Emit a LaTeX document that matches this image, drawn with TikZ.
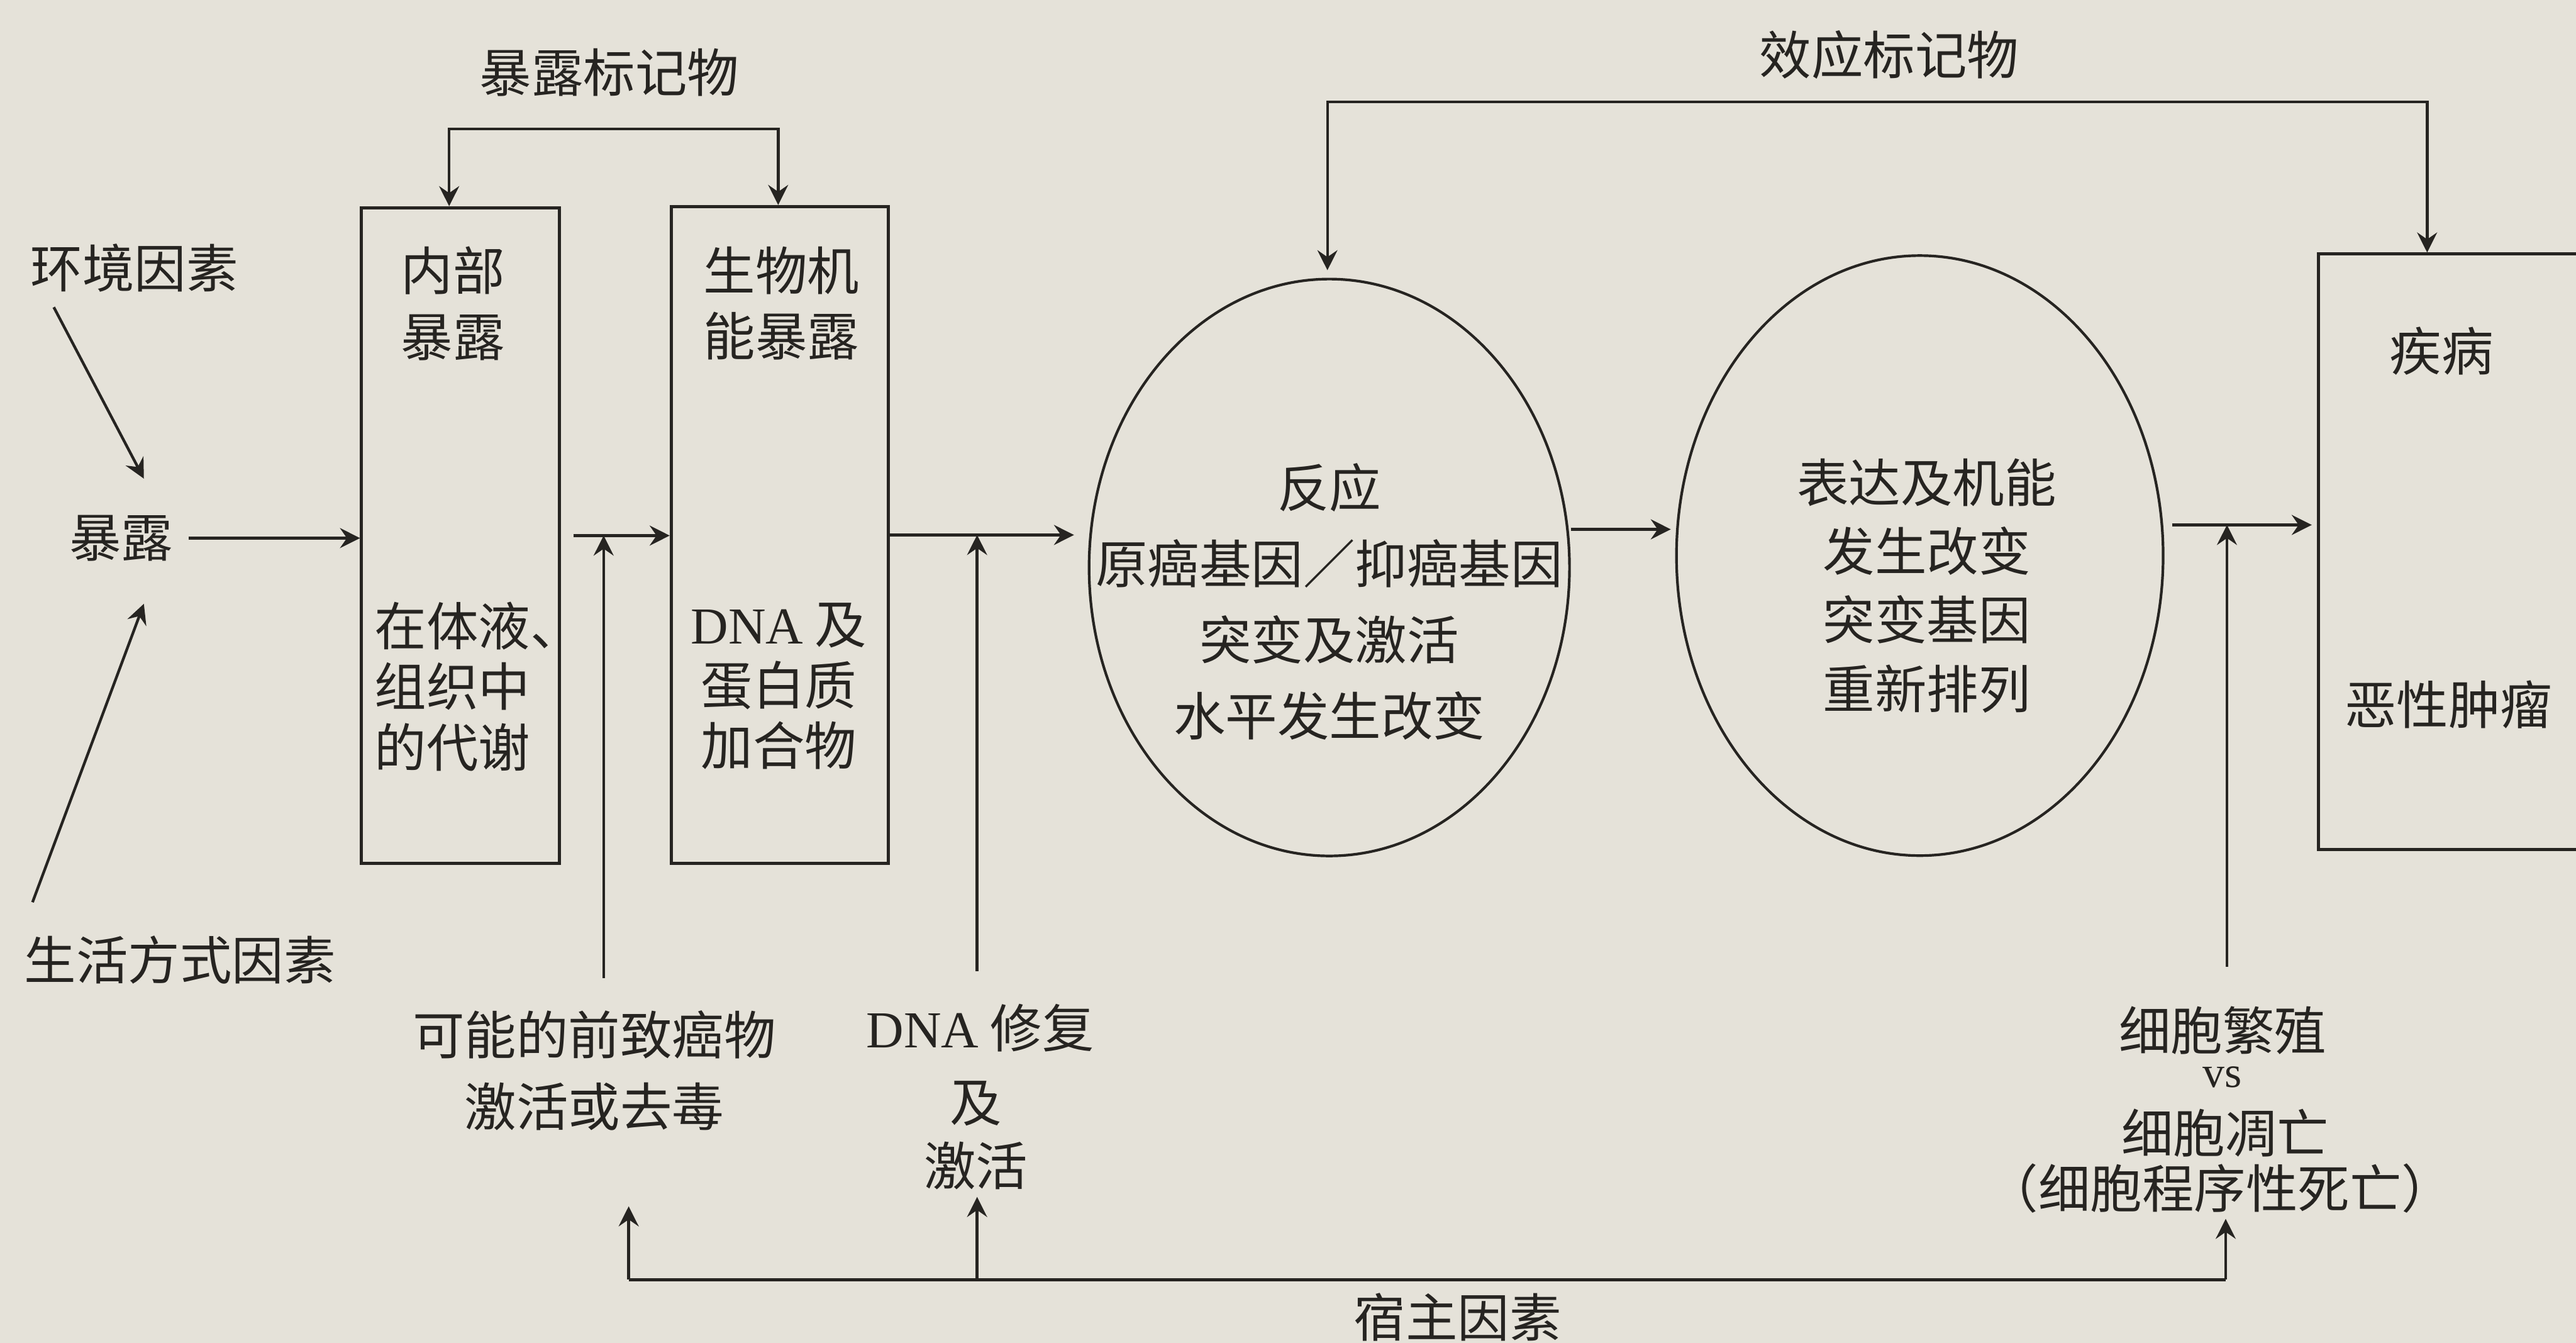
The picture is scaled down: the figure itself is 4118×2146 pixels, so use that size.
\documentclass[tikz,border=0pt]{standalone}
\usepackage{fontspec}
\setmainfont{Noto Sans CJK SC}
\newfontfamily\latf{Liberation Serif}
\usetikzlibrary{arrows.meta,shapes.geometric}
\definecolor{paper}{RGB}{229,226,217}
\definecolor{ink}{RGB}{38,36,33}
\begin{document}
\begin{tikzpicture}[x=0.1mm,y=-0.1mm,color=ink,
  box/.style={draw, line width=1.4pt, rectangle, inner sep=0pt},
  ell/.style={draw, line width=1.2pt, ellipse, inner sep=0pt},
  txt/.style={inner sep=0pt, font=\fontsize{23.6pt}{28pt}\selectfont},
  arr/.style={line width=1.25pt, -{Stealth[length=3.2mm,width=3.2mm,inset=1.1mm]}},
  arrs/.style={line width=1.25pt, {Stealth[length=3.2mm,width=3.2mm,inset=1.1mm]}-{Stealth[length=3.2mm,width=3.2mm,inset=1.1mm]}},
  ln/.style={line width=1.4pt}]
\fill[paper] (0,0) rectangle (4118,2146);
\useasboundingbox (0,0) rectangle (4118,2146);
\clip (0,0) rectangle (4118,2146);

% shapes
\node[box, minimum width=31.6mm, minimum height=104.8mm] (b1) at (736,856) {};
\node[box, minimum width=34.7mm, minimum height=105mm] (b2) at (1246.5,855) {};
\node[ell, minimum width=76.8mm, minimum height=92.2mm] (e1) at (2125,907) {};
\node[ell, minimum width=77.8mm, minimum height=95.9mm] (e2) at (3069,888) {};
\node[box, minimum width=50mm, minimum height=95.2mm] (b3) at (3956,882) {};

% texts
\node[txt] (mk1) at (974,116) {暴露标记物};
\node[txt] (mk2) at (3020,88) {效应标记物};
\node[txt] (hj) at (215,428) {环境因素};
\node[txt] (bl) at (194,860) {暴露};
\node[txt] (sh) at (288,1534) {生活方式因素};
\node[txt, align=center, font=\fontsize{23.6pt}{29.9pt}\selectfont] (b1t) at (724,485) {内部\\暴露};
\node[txt, align=left, anchor=west, font=\fontsize{23.6pt}{27.6pt}\selectfont] (b1b) at (598,1097) {在体液、\\组织中\\的代谢};
\node[txt, align=center, font=\fontsize{23.6pt}{29.9pt}\selectfont] (b2t) at (1249,485) {生物机\\能暴露};
\node[txt, align=center, font=\fontsize{23.6pt}{27.6pt}\selectfont] (b2b) at (1245,1097) {{\latf DNA} 及\\蛋白质\\加合物};
\node[txt, align=center, font=\fontsize{23.6pt}{34.6pt}\selectfont] (e1t) at (2125,962) {反应\\原癌基因／抑癌基因\\突变及激活\\水平发生改变};
\node[txt, align=center, font=\fontsize{23.6pt}{31.3pt}\selectfont] (e2t) at (3080,936) {表达及机能\\发生改变\\突变基因\\重新排列};
\node[txt] (b3a) at (3903,561) {疾病};
\node[txt] (b3b) at (3914,1126) {恶性肿瘤};
\node[txt, align=center, font=\fontsize{23.6pt}{32.4pt}\selectfont] (pre) at (950,1711) {可能的前致癌物\\激活或去毒};
\node[txt] (r1) at (1567,1643) {{\latf DNA} 修复};
\node[txt] (r2) at (1560,1764) {及};
\node[txt] (r3) at (1560,1863) {激活};
\node[txt] (c1) at (3553,1647) {细胞繁殖};
\node[inner sep=0pt, font={\fontsize{20pt}{24pt}\selectfont\latf}] (c2) at (3553,1722) {vs};
\node[txt] (c3) at (3557,1811) {细胞凋亡};
\node[txt] (c4) at (3549,1899) {（细胞程序性死亡）};
\node[txt] (host) at (2330,2105) {宿主因素};

% marker brackets
\coordinate (k1) at (718,206);
\coordinate (k2) at (1244,206);
\draw[arrs] (b1.north -| k1) -- (k1) -- (k2) -- (b2.north -| k2);
\coordinate (k3) at (2122,163);
\coordinate (k4) at (3880,163);
\draw[arrs, shorten <=1.2mm] (e1.north -| k3) -- (k3) -- (k4) -- (b3.north -| k4);

% inputs to exposure
\coordinate (hjA) at (86,491);
\coordinate (blA) at (230,765);
\draw[arr] (hjA) -- (blA);
\coordinate (shA) at (52,1442);
\coordinate (blB) at (230,965);
\draw[arr] (shA) -- (blB);

% main chain
\draw[arr, shorten <=2.4mm] (bl.east) -- (b1.west |- bl.east);
\draw[arr, shorten <=2mm] (b1.east) -- (b2.west |- b1.east);
\draw[arr, shorten >=2.2mm] (b2.east) -- (e1.west |- b2.east);
\coordinate (y1) at (0,846);
\draw[arr, shorten >=0.7mm] (e1.east |- y1) -- (e2.west |- y1);
\coordinate (y2) at (0,839);
\draw[arr, shorten <=1.2mm, shorten >=0.8mm] (e2.east |- y2) -- (b3.west |- y2);

% modifier verticals
\coordinate (v1) at (965,1563);
\draw[arr] (v1) -- (v1 |- b1.east);
\coordinate (v2) at (1562,1552);
\draw[arr] (v2) -- (v2 |- b2.east);
\coordinate (v3) at (3560,1545);
\draw[arr] (v3) -- (v3 |- y2);

% host factors
\coordinate (h1) at (1005,2045);
\coordinate (h3) at (3558,2045);
\draw[ln] (h1) -- (h3);
\draw[arr] (h1) -- ++(0,-117);
\draw[arr] (h1 -| v2) -- ++(0,-132);
\draw[arr] (h3) -- ++(0,-97);
\end{tikzpicture}
\end{document}
